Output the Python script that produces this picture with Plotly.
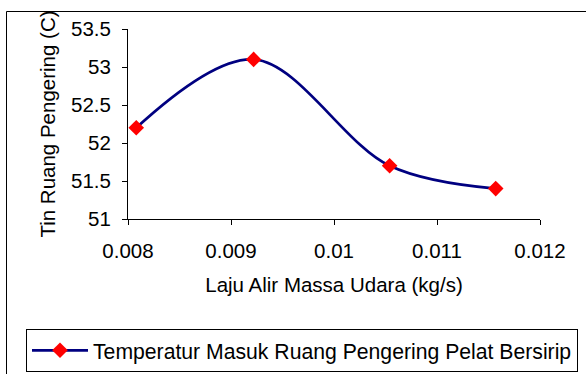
import plotly.graph_objects as go

# Data
mass_flow = [0.00808, 0.00922, 0.01054, 0.01157]  # kg/s
temp_in = [52.2, 53.1, 51.7, 51.4]  # C
series_name = "Temperatur Masuk Ruang Pengering Pelat Bersirip"
x_title = "Laju Alir Massa Udara (kg/s)"
y_title = "Tin Ruang Pengering (C)"
x_ticks = [0.008, 0.009, 0.010, 0.011, 0.012]
x_ticklabels = ["0.008", "0.009", "0.01", "0.011", "0.012"]
y_ticks = [51, 51.5, 52, 52.5, 53, 53.5]
y_ticklabels = ["51", "51.5", "52", "52.5", "53", "53.5"]

W, H = 586, 374
L, R, T, B = 128, 46, 29, 155
pw, ph = W - L - R, H - T - B

def px_x(p):
    return (p - L) / pw

def px_y(p):
    return (H - B - p) / ph

FONT = "Liberation Sans, Arial, sans-serif"
FS = 20.5
LFS = 21.2

fig = go.Figure()
fig.add_trace(go.Scatter(
    x=mass_flow, y=temp_in, name=series_name,
    mode="lines+markers",
    line=dict(color="#000080", width=2.7, shape="spline", smoothing=1.0),
    marker=dict(symbol="diamond", size=12, color="#ff0000", line=dict(width=0)),
    showlegend=True,
))

fig.update_layout(
    width=W, height=H,
    margin=dict(l=L, r=R, t=T, b=B, autoexpand=False),
    paper_bgcolor="white", plot_bgcolor="white",
    font=dict(family=FONT, size=FS, color="black"),
    showlegend=True,
    legend=dict(
        x=px_x(26), y=px_y(329), xanchor="left", yanchor="top",
        bordercolor="black", borderwidth=1, bgcolor="white",
        font=dict(family=FONT, size=LFS, color="black"),
        itemwidth=56, tracegroupgap=0,
    ),
    xaxis=dict(
        range=[0.008, 0.012], tickvals=x_ticks, ticktext=x_ticklabels,
        showgrid=False, zeroline=False, showline=True, linecolor="black", linewidth=1,
        ticks="outside", ticklen=5, tickcolor="black", tickwidth=1,
        tickfont=dict(family=FONT, size=FS), ticklabelstandoff=8,
        title=dict(text=x_title, font=dict(family=FONT, size=FS), standoff=17),
        mirror=False, fixedrange=True,
    ),
    yaxis=dict(
        range=[51, 53.5], tickvals=y_ticks, ticktext=y_ticklabels,
        showgrid=False, zeroline=False, showline=True, linecolor="black", linewidth=1,
        ticks="outside", ticklen=5, tickcolor="black", tickwidth=1,
        tickfont=dict(family=FONT, size=FS), ticklabelstandoff=7,
        title=dict(text=y_title, font=dict(family=FONT, size=FS), standoff=9),
        mirror=False, fixedrange=True,
    ),
    shapes=[dict(
        type="rect", xref="paper", yref="paper",
        x0=px_x(6.5), y0=px_y(400), x1=px_x(620), y1=px_y(11.5),
        line=dict(color="black", width=1), fillcolor="rgba(0,0,0,0)", layer="below",
    )],
)

fig.write_html("out.html")
